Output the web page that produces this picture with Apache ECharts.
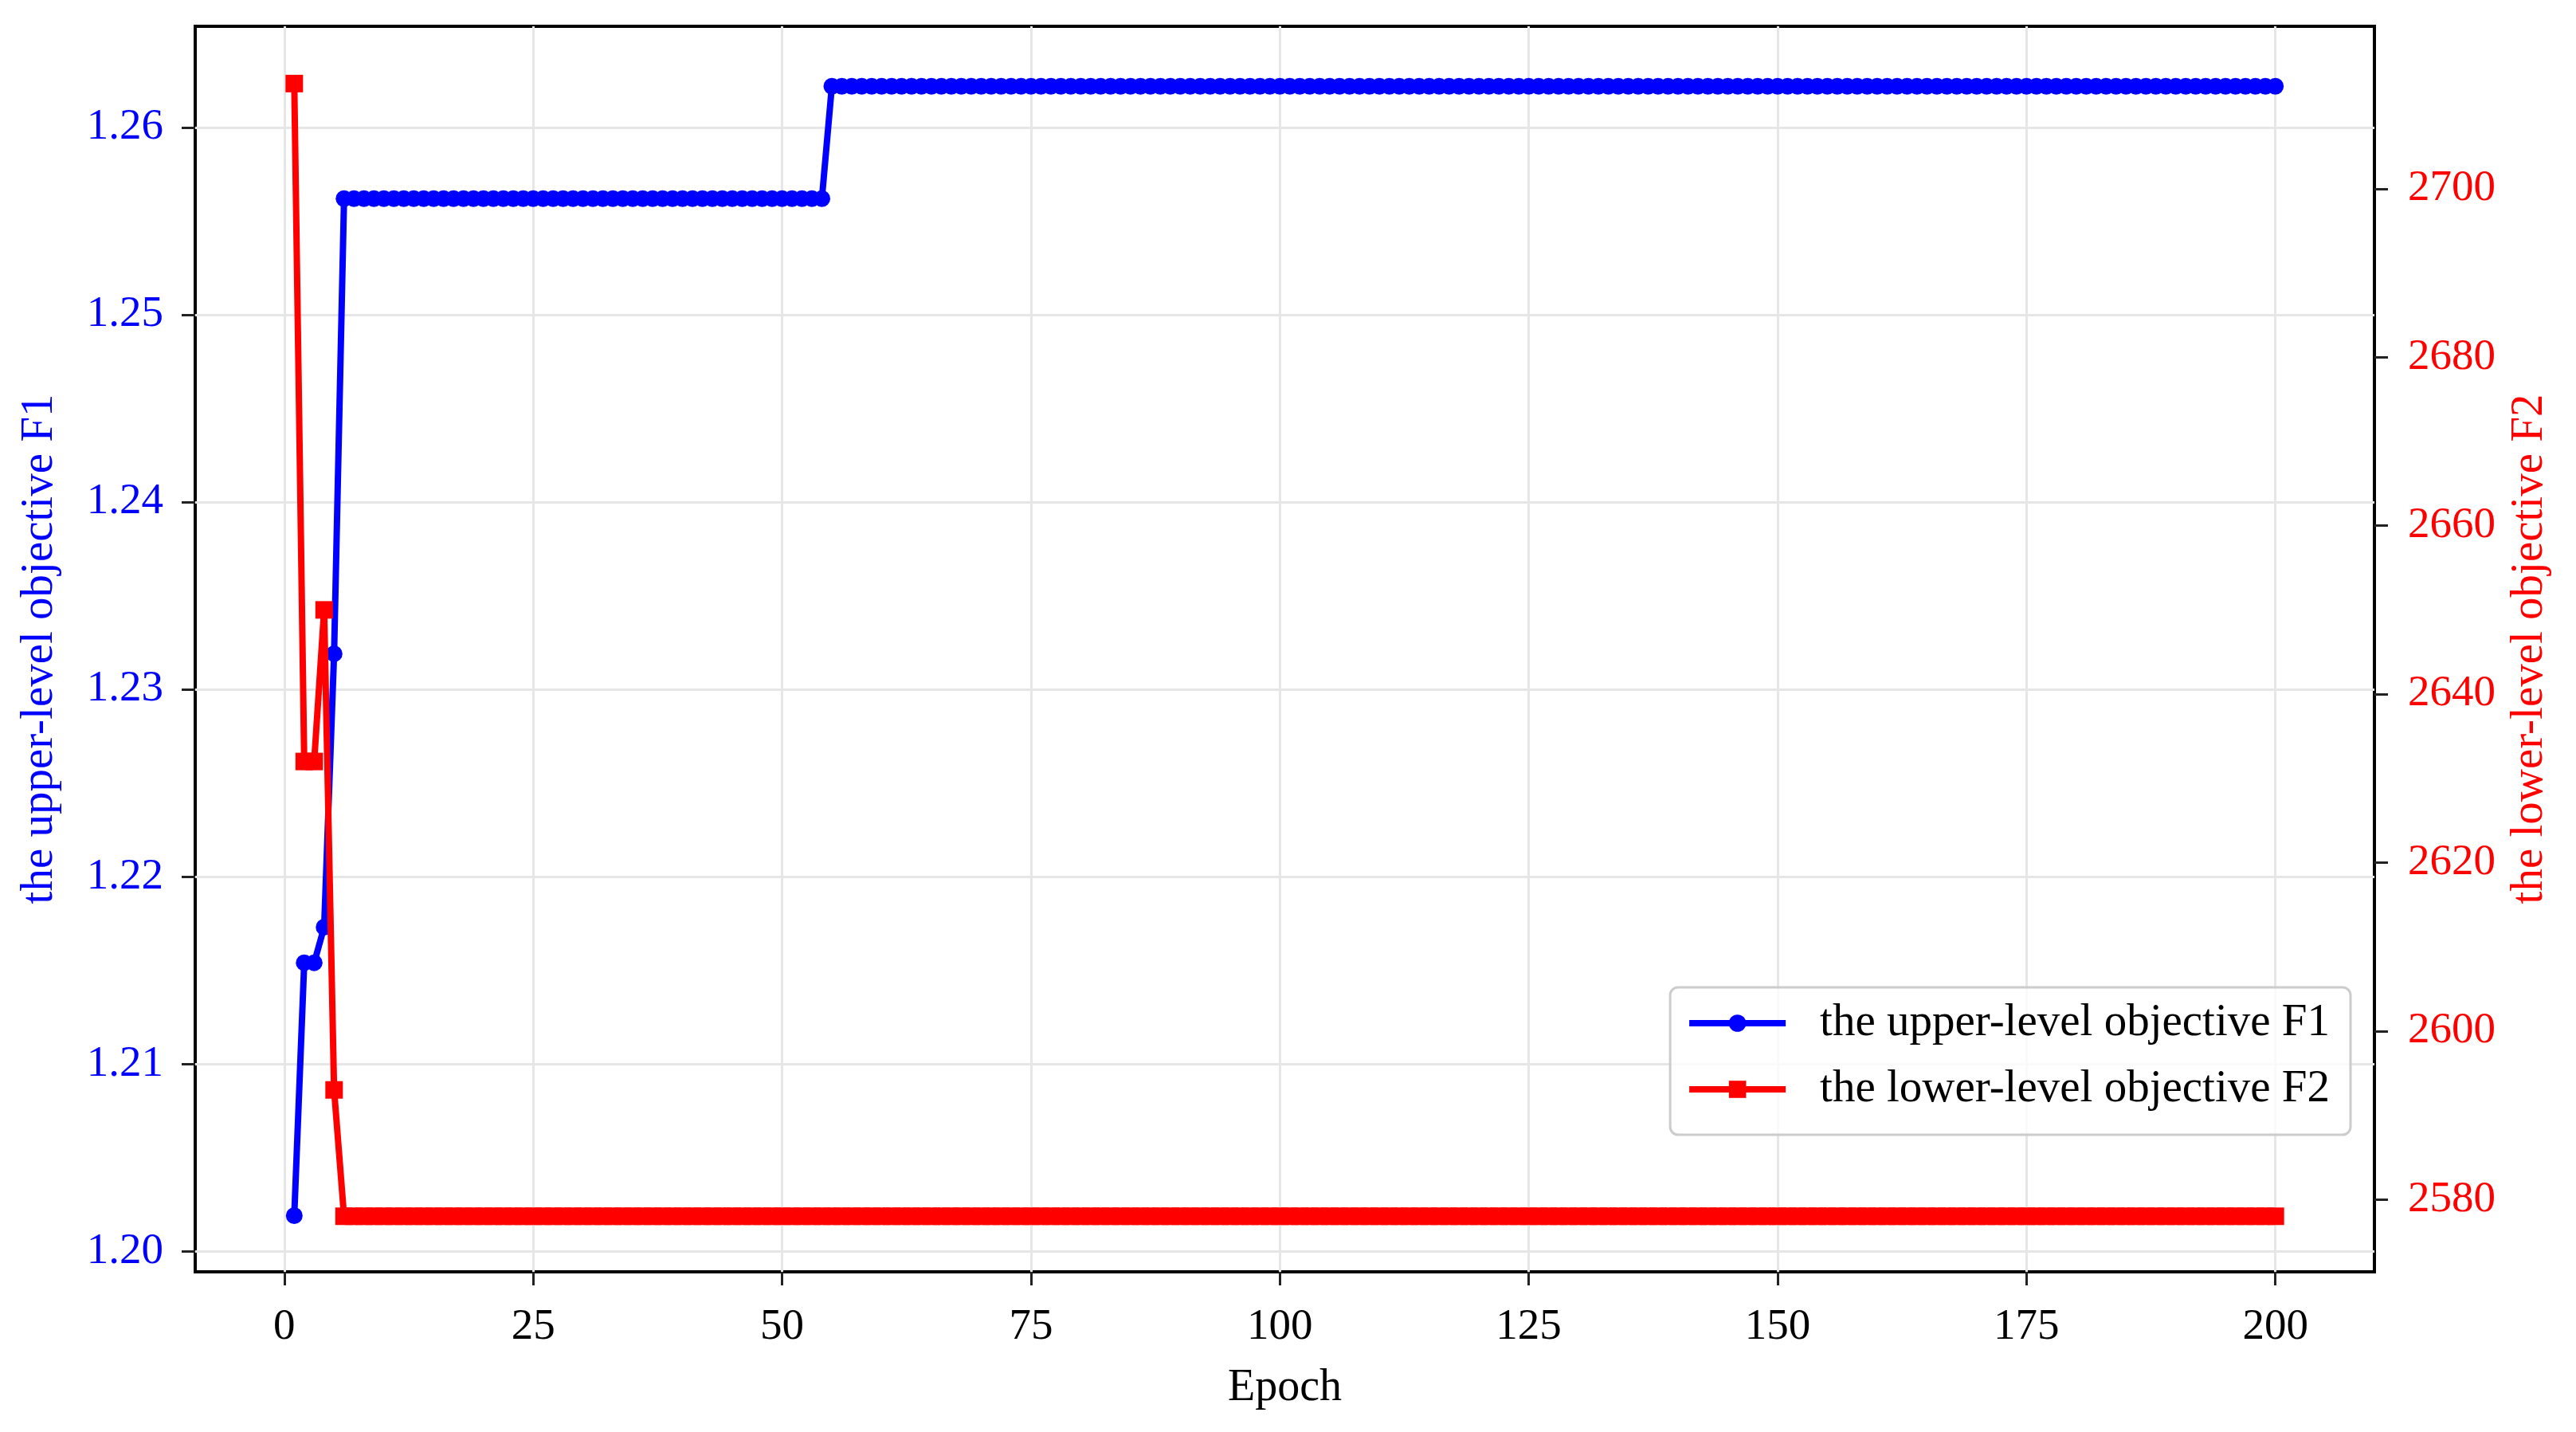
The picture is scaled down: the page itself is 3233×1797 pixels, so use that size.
<!DOCTYPE html>
<html>
<head>
<meta charset="utf-8">
<script src="https://cdn.jsdelivr.net/npm/echarts@6/dist/echarts.min.js"></script>
<style>
  html, body { margin: 0; padding: 0; background: #fff; }
  #chart { width: 3233px; height: 1797px; }
</style>
</head>
<body>
<div id="chart"></div>
<script>
// values, stored as runs of [value, how many epochs]
const f1Runs = [[1.2019, 1], [1.2154, 2], [1.2173, 1], [1.2319, 1], [1.2562, 49], [1.2622, 146]]
const f2Runs = [[2712.5, 1], [2632, 2], [2650, 1], [2593, 1], [2578, 195]]

const xTicks = [0, 25, 50, 75, 100, 125, 150, 175, 200]
const f1Ticks = [1.20, 1.21, 1.22, 1.23, 1.24, 1.25, 1.26]
const f2Ticks = [2580, 2600, 2620, 2640, 2660, 2680, 2700]

const nameF1 = 'the upper-level objective F1'
const nameF2 = 'the lower-level objective F2'

function expand(runs) {
  const out = []
  let epoch = 1
  runs.forEach(function (r) {
    for (let i = 0; i < r[1]; i++) {
      out.push([epoch, r[0]])
      epoch++
    }
  })
  return out
}

const font = '"Liberation Serif", "Times New Roman", serif'
const tick = { show: true, inside: false, length: 17, lineStyle: { color: '#222', width: 3 } }

const chart = echarts.init(document.getElementById('chart'))

const option = {
  animation: false,
  backgroundColor: '#fff',
  textStyle: { fontFamily: font },
  grid: {
    left: 245, right: 253, top: 33, bottom: 201,
    show: true, borderColor: '#000', borderWidth: 4, backgroundColor: 'transparent'
  },
  legend: {
    orient: 'vertical',
    right: 283,
    top: 1239,
    padding: [15, 26, 27, 20],
    itemGap: 23,
    itemWidth: 121,
    itemHeight: 27,
    lineStyle: { width: 8 },
    backgroundColor: 'rgba(255,255,255,0.8)',
    borderColor: '#ccc',
    borderWidth: 3,
    borderRadius: 10,
    textStyle: { fontFamily: font, fontSize: 57, lineHeight: 60, color: '#000', padding: [0, 0, 0, 38] },
    data: [nameF1, nameF2]
  },
  xAxis: {
    type: 'value',
    min: -8.95,
    max: 209.95,
    name: 'Epoch',
    nameLocation: 'middle',
    nameGap: 118,
    nameTextStyle: { fontFamily: font, fontSize: 56, color: '#000' },
    axisLine: { show: false, onZero: false },
    axisTick: Object.assign({ customValues: xTicks }, tick),
    axisLabel: { customValues: xTicks, margin: 42, fontFamily: font, fontSize: 55, color: '#000' },
    splitLine: { show: true, lineStyle: { color: '#e6e6e6', width: 3 } }
  },
  yAxis: [
    {
      type: 'value',
      position: 'left',
      min: 1.1989,
      max: 1.2654,
      name: nameF1,
      nameLocation: 'middle',
      nameRotate: 90,
      nameGap: 166,
      nameTextStyle: { fontFamily: font, fontSize: 57, color: '#0000ff' },
      axisLine: { show: false, onZero: false },
      axisTick: Object.assign({ customValues: f1Ticks }, tick),
      axisLabel: {
        customValues: f1Ticks, margin: 40, fontFamily: font, fontSize: 55, color: '#0000ff',
        formatter: function (v) { return v.toFixed(2) }
      },
      splitLine: { show: true, lineStyle: { color: '#e6e6e6', width: 3 } }
    },
    {
      type: 'value',
      position: 'right',
      min: 2571.4,
      max: 2719.3,
      name: nameF2,
      nameLocation: 'middle',
      nameRotate: 90,
      nameGap: 167,
      nameTextStyle: { fontFamily: font, fontSize: 57, color: '#ff0000' },
      axisLine: { show: false, onZero: false },
      axisTick: Object.assign({ customValues: f2Ticks }, tick),
      axisLabel: {
        customValues: f2Ticks, margin: 42, fontFamily: font, fontSize: 55, color: '#ff0000',
        formatter: function (v) { return String(v) }
      },
      splitLine: { show: false }
    }
  ],
  series: [
    {
      name: nameF1,
      type: 'line',
      yAxisIndex: 0,
      data: expand(f1Runs),
      symbol: 'circle',
      symbolSize: 21,
      showAllSymbol: true,
      color: '#0000ff',
      itemStyle: { color: '#0000ff' },
      lineStyle: { color: '#0000ff', width: 8 },
      z: 3
    },
    {
      name: nameF2,
      type: 'line',
      yAxisIndex: 1,
      data: expand(f2Runs),
      symbol: 'rect',
      symbolSize: 22,
      showAllSymbol: true,
      color: '#ff0000',
      itemStyle: { color: '#ff0000' },
      lineStyle: { color: '#ff0000', width: 8 },
      z: 4
    }
  ]
}

chart.setOption(option)
</script>
</body>
</html>
